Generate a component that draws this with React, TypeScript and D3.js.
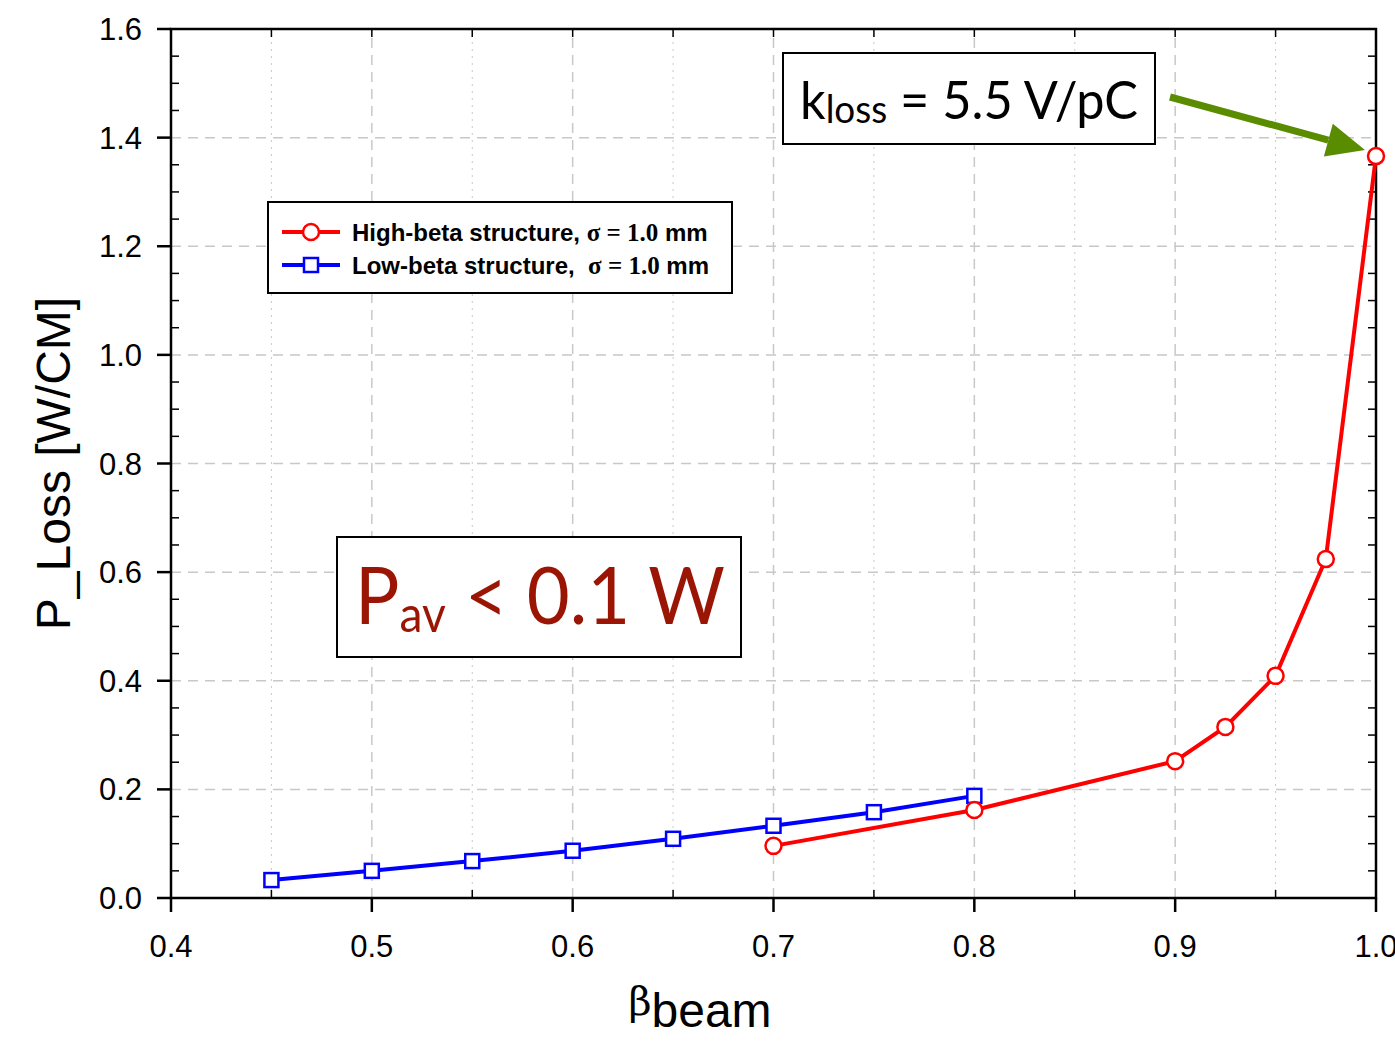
import React from 'react'
import * as d3 from 'd3'

// beta values and loss power (W/cm)
const lowBeta = [0.45, 0.5, 0.55, 0.6, 0.65, 0.7, 0.75, 0.8]
const lowLoss = [0.033, 0.05, 0.068, 0.087, 0.109, 0.133, 0.158, 0.188]
const highBeta = [0.7, 0.8, 0.9, 0.925, 0.95, 0.975, 1.0]
const highLoss = [0.096, 0.162, 0.252, 0.315, 0.409, 0.624, 1.366]

const xTicks = [0.4, 0.5, 0.6, 0.7, 0.8, 0.9, 1.0]
const yTicks = [0.0, 0.2, 0.4, 0.6, 0.8, 1.0, 1.2, 1.4, 1.6]

const W = 1395
const H = 1047
const margin = { top: 29, right: 19, bottom: 149, left: 171 }

const App = () => {
  const x = d3.scaleLinear().domain([0.4, 1.0]).range([margin.left, W - margin.right])
  const y = d3.scaleLinear().domain([0, 1.6]).range([H - margin.bottom, margin.top])
  const x0 = x.range()[0], x1 = x.range()[1]
  const y0 = y.range()[0], y1 = y.range()[1]

  const xMinor = d3.range(0.45, 1.0, 0.1)
  const yMinor = d3.range(0, 1.6001, 0.05).filter(v => Math.abs(Math.round(v * 5) - v * 5) > 1e-6)

  const line = d3.line<number>()
  const lowPts = lowBeta.map((b, i) => [x(b), y(lowLoss[i])] as [number, number])
  const highPts = highBeta.map((b, i) => [x(b), y(highLoss[i])] as [number, number])

  const grid = '#c8c8c8'
  const sq = 14
  const rr = 8

  // arrow pointing at the last high-beta point
  const tipX = x(highBeta[highBeta.length - 1]) - 11
  const tipY = y(highLoss[highLoss.length - 1]) - 6
  const tailX = 1170, tailY = 97
  const ang = Math.atan2(tipY - tailY, tipX - tailX)
  const hl = 38, hw = 17
  const bx = tipX - hl * Math.cos(ang), by = tipY - hl * Math.sin(ang)
  const head = [
    [tipX, tipY],
    [bx + hw * Math.sin(ang), by - hw * Math.cos(ang)],
    [bx - hw * Math.sin(ang), by + hw * Math.cos(ang)],
  ]

  return (
    <svg width={W} height={H} style={{ position: 'absolute', left: 0, top: 0, background: '#fff' }}
      fontFamily="'Liberation Sans', Arial, sans-serif">
      {/* grid */}
      {xTicks.slice(1, -1).map(v => (
        <line key={'gx' + v} x1={x(v)} x2={x(v)} y1={y0} y2={y1} stroke={grid} strokeWidth={1.5} strokeDasharray="10,7" />
      ))}
      {xMinor.map(v => (
        <line key={'gxm' + v} x1={x(v)} x2={x(v)} y1={y0} y2={y1} stroke={grid} strokeWidth={1} strokeDasharray="2,5" />
      ))}
      {yTicks.slice(1, -1).map(v => (
        <line key={'gy' + v} x1={x0} x2={x1} y1={y(v)} y2={y(v)} stroke={grid} strokeWidth={1.5} strokeDasharray="10,7" />
      ))}

      {/* frame */}
      <rect x={x0} y={y1} width={x1 - x0} height={y0 - y1} fill="none" stroke="#000" strokeWidth={2.5} />

      {/* x ticks */}
      {xTicks.map(v => (
        <g key={'xt' + v}>
          <line x1={x(v)} x2={x(v)} y1={y0} y2={y0 + 14} stroke="#000" strokeWidth={2.5} />
          <line x1={x(v)} x2={x(v)} y1={y1} y2={y1 + 8} stroke="#000" strokeWidth={1.5} />
          <text x={x(v)} y={y0 + 59} textAnchor="middle" fontSize={31}>{v.toFixed(1)}</text>
        </g>
      ))}
      {xMinor.map(v => (
        <g key={'xm' + v}>
          <line x1={x(v)} x2={x(v)} y1={y0} y2={y0 - 8} stroke="#000" strokeWidth={1.5} />
          <line x1={x(v)} x2={x(v)} y1={y1} y2={y1 + 8} stroke="#000" strokeWidth={1.5} />
        </g>
      ))}

      {/* y ticks */}
      {yTicks.map(v => (
        <g key={'yt' + v}>
          <line x1={x0 - 14} x2={x0} y1={y(v)} y2={y(v)} stroke="#000" strokeWidth={2.5} />
          <text x={x0 - 29} y={y(v) + 11} textAnchor="end" fontSize={31}>{v.toFixed(1)}</text>
        </g>
      ))}
      {yMinor.map(v => (
        <g key={'ym' + v}>
          <line x1={x0} x2={x0 + 8} y1={y(v)} y2={y(v)} stroke="#000" strokeWidth={1.5} />
          <line x1={x1} x2={x1 - 8} y1={y(v)} y2={y(v)} stroke="#000" strokeWidth={1.5} />
        </g>
      ))}

      {/* axis titles */}
      <text transform={`translate(70,${(y0 + y1) / 2}) rotate(-90)`} textAnchor="middle" fontSize={48}>P_Loss [W/CM]</text>
      <text x={700} y={1027} textAnchor="middle">
        <tspan fontFamily="'DejaVu Serif', serif" fontSize={40} dy={-12}>β</tspan>
        <tspan fontSize={48} dy={12}>beam</tspan>
      </text>

      {/* series */}
      <path d={line(highPts) || ''} fill="none" stroke="#ff0000" strokeWidth={4} />
      <path d={line(lowPts) || ''} fill="none" stroke="#0000ff" strokeWidth={4} />
      {lowPts.map((p, i) => (
        <rect key={'lp' + i} x={p[0] - sq / 2} y={p[1] - sq / 2} width={sq} height={sq} fill="#fff" stroke="#0000ff" strokeWidth={2.5} />
      ))}
      {highPts.map((p, i) => (
        <circle key={'hp' + i} cx={p[0]} cy={p[1]} r={rr} fill="#fff" stroke="#ff0000" strokeWidth={2.5} />
      ))}

      {/* legend */}
      <g>
        <rect x={268} y={202} width={464} height={91} fill="#fff" stroke="#000" strokeWidth={2} />
        <line x1={282} x2={340} y1={232} y2={232} stroke="#ff0000" strokeWidth={4} />
        <circle cx={311} cy={232} r={rr} fill="#fff" stroke="#ff0000" strokeWidth={2.5} />
        <line x1={282} x2={340} y1={265} y2={265} stroke="#0000ff" strokeWidth={4} />
        <rect x={311 - sq / 2} y={265 - sq / 2} width={sq} height={sq} fill="#fff" stroke="#0000ff" strokeWidth={2.5} />
        <text x={352} y={241} fontSize={24} fontWeight="bold">
          High-beta structure,{' '}
          <tspan fontFamily="'Liberation Serif', 'Times New Roman', serif" fontSize={25}>σ = 1.0</tspan> mm
        </text>
        <text x={352} y={274} fontSize={24} fontWeight="bold" style={{ whiteSpace: 'pre' }}>
          {'Low-beta structure,  '}
          <tspan fontFamily="'Liberation Serif', 'Times New Roman', serif" fontSize={25}>σ = 1.0</tspan> mm
        </text>
      </g>

      {/* k_loss box */}
      <rect x={783} y={53} width={372} height={91} fill="#fff" stroke="#000" strokeWidth={2} />
      <text x={800} y={119} fontFamily="Lato, 'Open Sans', sans-serif" fontSize={52} fill="#000"
        textLength={338} lengthAdjust="spacingAndGlyphs">
        k<tspan fontSize={38} dy={4}>loss</tspan><tspan dy={-4}> = 5.5 V/pC</tspan>
      </text>

      {/* arrow */}
      <line x1={tailX} y1={tailY} x2={bx} y2={by} stroke="#5a8c00" strokeWidth={7} />
      <polygon points={head.map(p => p.join(',')).join(' ')} fill="#5a8c00" />

      {/* P_av box */}
      <rect x={337} y={537} width={404} height={120} fill="#fff" stroke="#000" strokeWidth={2} />
      <text x={355} y={624} fontFamily="Lato, 'Open Sans', sans-serif" fontSize={80} fill="#9b1505"
        textLength={370} lengthAdjust="spacingAndGlyphs">
        P<tspan fontSize={50} dy={8}>av</tspan><tspan dy={-8}> &lt; 0.1 W</tspan>
      </text>
    </svg>
  )
}

export default App
